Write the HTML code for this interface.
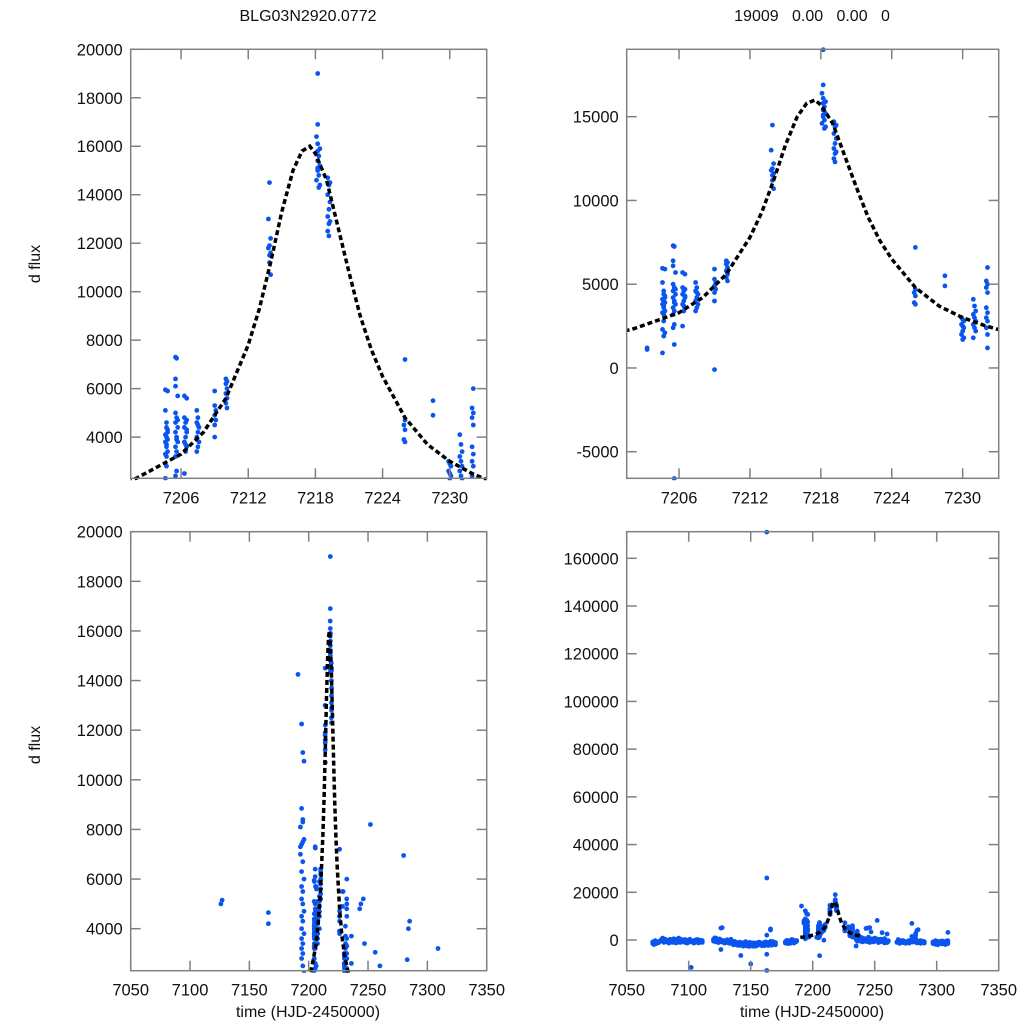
<!DOCTYPE html>
<html><head><meta charset="utf-8"><style>
html,body{margin:0;padding:0;background:#fff;overflow:hidden;width:1024px;height:1024px}
svg{display:block;font-family:"Liberation Sans",sans-serif}
</style></head><body>
<svg id="chart" width="1024" height="1024" viewBox="0 0 1024 1024"></svg>
<script>
// ---- data ----
const modelT=[7190,7195,7199,7201,7202,7204,7206,7208,7210,7212,7213,7214,7215,7216,7216.8,7217.5,7218,7219,7220,7221,7222,7223,7224,7226,7228,7230,7232,7233,7236,7240];
const modelF=[1100,1400,1900,2150,2300,2800,3300,4200,5600,7800,9300,11200,13300,15000,15800,16000,15700,14600,12700,10800,9000,7600,6500,4800,3700,3000,2500,2300,1900,1500];
const seasonObs=[
[7203.3,1200],[7203.3,1100],
[7204.6,5950],[7204.8,5900],[7204.6,5100],[7204.7,4600],[7204.7,4400],[7204.8,4200],[7204.6,4100],[7204.7,4000],[7204.8,3900],[7204.6,3800],[7204.7,3600],[7204.8,3400],[7204.6,3300],[7204.7,3200],[7204.7,2800],[7204.6,2300],[7204.8,2100],[7204.7,1900],[7204.6,900],[7204.8,4300],[7204.7,3700],
[7205.5,7300],[7205.6,7250],[7205.5,6400],[7205.5,6100],[7205.7,5700],[7205.5,5000],[7205.6,4800],[7205.5,4600],[7205.7,4400],[7205.5,4200],[7205.6,4000],[7205.7,3800],[7205.5,3600],[7205.6,3400],[7205.5,3200],[7205.6,2600],[7205.5,2400],[7205.6,1400],[7205.6,-6600],[7205.7,4700],[7205.6,3900],
[7206.3,5700],[7206.5,5600],[7206.3,4800],[7206.5,4700],[7206.4,4600],[7206.3,4400],[7206.5,4200],[7206.4,4000],[7206.3,3800],[7206.5,3600],[7206.4,3400],[7206.3,2500],[7206.5,4300],[7206.4,3700],
[7207.4,5100],[7207.5,4800],[7207.4,4600],[7207.6,4400],[7207.5,4200],[7207.4,4000],[7207.6,3800],[7207.5,3600],[7207.4,3400],[7207.5,4500],
[7209.0,5900],[7209.0,5300],[7209.1,5100],[7209.0,4900],[7209.1,4700],[7209.0,4500],[7209.0,4000],[7209.0,-100],
[7210.0,6400],[7210.1,6300],[7210.0,6200],[7210.1,6000],[7210.0,5800],[7210.1,5600],[7210.0,5400],[7210.1,5200],
[7213.9,14500],[7213.8,13000],[7214.0,12200],[7213.9,11900],[7213.8,11800],[7214.0,11600],[7213.9,11500],[7213.9,11200],[7214.0,10700],
[7218.2,19000],[7218.2,16900],[7218.1,16400],[7218.2,16100],[7218.4,15900],[7218.2,15800],[7218.3,15600],[7218.2,15400],[7218.4,15200],[7218.2,15000],[7218.3,14800],[7218.1,14600],[7218.4,14400],[7218.3,14300],[7218.2,15100],
[7219.1,14700],[7219.3,14500],[7219.2,14400],[7219.1,14000],[7219.3,13700],[7219.2,13400],[7219.1,13100],[7219.3,12900],[7219.2,12800],[7219.1,12500],[7219.2,12300],
[7226.0,7200],[7226.0,4700],[7225.9,4500],[7226.0,4300],[7225.9,3900],[7226.0,3800],
[7228.5,5500],[7228.5,4900],
[7229.9,3000],[7230.0,2900],[7230.1,2800],[7229.9,2600],[7230.0,2500],[7230.1,2400],[7230.0,2200],[7229.9,2000],[7230.1,1800],[7230.0,1700],
[7230.9,4100],[7231.0,3700],[7231.1,3400],[7230.9,3200],[7231.0,3000],[7231.1,2800],[7230.9,2600],[7231.0,2400],[7231.1,2200],[7230.9,1800],
[7232.1,6000],[7232.0,5200],[7232.1,5000],[7232.0,4800],[7232.1,4500],[7232.0,3600],[7232.1,3300],[7232.0,3000],[7232.1,2800],[7232.0,2400],[7232.1,2000],[7232.1,1200]
];
const wideObs=[
[7127,5150],[7166,4650],[7191,14250],[7194,12250],[7195,11100],[7196,10750],[7194,8850],[7193,8100],[7195,8300],[7195,8400],[7196,7600],[7195,7500],[7194,7400],[7193,7300],[7193,7000],[7195,6700],[7194,6300],[7196,6000],[7194,5700],[7195,5500],[7194,5200],[7195,5000],[7196,4700],[7194,4500],[7195,4300],[7194,4000],[7196,3800],[7194,3600],[7195,3400],[7194,3200],[7195,3000],[7194,2800],[7195,2500],[7194,2000],[7196,1500],[7195,1000],[7194,500],[7196,2200],[7197,1200],
[7229,5500],[7236,3700],[7243,4800],[7246,5200],[7247,3400],[7252,8200],[7256,3050],[7280,6950],[7283,2750],[7285,4300],[7309,3200],[7236,2600],
[7163,171000],[7163,26000],[7163,-12800],[7102,-11500],[7150,-10000],[7142,-6500],[7163,-6000],[7126,5000],[7126,-4000],[7235,-2500],[7166,4200],[7284,4000],[7244,5000]
];
const baseT=[7071,7072,7073,7074,7076,7078,7079,7080,7081,7082,7083,7084,7085,7086,7087,7088,7089,7090,7091,7092,7093,7094,7095,7096,7097,7098,7099,7100,7101,7104,7105,7106,7107,7108,7109,7110,7111,7120,7121,7122,7123,7124,7125,7127,7128,7129,7131,7132,7133,7134,7135,7136,7137,7138,7139,7140,7141,7142,7143,7144,7145,7146,7147,7148,7149,7150,7151,7152,7153,7154,7155,7156,7157,7158,7159,7160,7161,7162,7163,7164,7165,7166,7167,7168,7169,7170,7178,7179,7180,7181,7182,7183,7184,7185,7186,7187,7235,7236,7237,7238,7239,7240,7241,7242,7244,7245,7246,7247,7248,7249,7250,7251,7253,7254,7255,7257,7258,7259,7260,7261,7268,7269,7270,7271,7272,7273,7274,7275,7276,7277,7278,7279,7280,7281,7282,7283,7284,7285,7286,7287,7288,7289,7290,7297,7298,7299,7300,7301,7302,7303,7304,7305,7306,7307,7308,7309];
const baseF1=[-1500,-1200,-800,-1000,-600,200,800,-300,-500,0,-900,-400,300,-700,-200,500,-1100,-600,-100,800,-400,-900,-300,-700,200,-1200,-500,0,-800,-1300,-400,-800,200,-600,-100,-900,-300,300,-200,800,-500,100,-700,-300,-1000,-400,-700,-1200,-800,300,-1500,-1000,-600,-1800,-1300,-2000,-900,-1600,-2200,-1200,-1900,-700,-2500,-1500,-1000,-2300,-1700,-2000,-1200,-2600,-1400,-1800,-900,-2100,-1500,-1200,-2400,-800,2000,-1600,-1000,-2000,-1400,-700,-1800,-1100,-700,-1200,-300,-900,-600,-1100,100,-500,-800,-200,1500,800,2000,400,-300,900,200,-500,300,1200,-200,400,-600,100,800,-400,300,-900,200,-700,-1200,-300,2500,-600,-1000,-500,-1400,-800,-300,-1100,-600,-1300,-900,-400,-200,-800,1500,500,-600,2000,-300,-1000,-700,-1400,-500,-1200,-700,-1500,-900,-1800,-1100,-600,-1300,-900,-400,-1600,-1000,-700,-1200,-300,800];
const baseF2=[-800,-1900,-300,-1500,-1100,-400,-200,-1000,300,-700,-200,-1300,-600,0,-1000,-500,-300,-1200,400,-500,-1000,200,-800,-100,-900,-400,-1300,-600,300,-300,-1100,100,-700,-1200,-600,-200,-1000,-500,900,-800,-300,-1100,400,-900,-200,-1300,100,-400,-1400,-900,-600,-2000,-1300,-900,-2200,-1400,-2300,-1100,-1500,-2600,-1000,-1800,-1400,-2200,-2700,-1500,-1200,-2600,-2000,-1500,-2300,-1000,-1700,-1300,-2400,-1900,-1100,-1700,-1000,-2300,-1800,-600,-2200,-1500,-1000,-2000,-1300,-200,-1500,-700,-1400,200,-900,-1300,-400,-600,200,-500,1000,-400,1100,-800,-200,600,-700,100,-1000,-300,400,-800,-200,600,-1100,-400,300,-900,600,-500,-1100,-300,-800,200,-1400,-600,-1000,-300,-800,-1400,-1100,-600,-1300,-300,200,-900,-400,700,-1200,-500,-1100,-300,-900,-600,-1300,-800,-1000,-300,-1400,-2000,-700,-1200,-1600,-500,-1000,-1900,-400,-1500,-600,1500];

const xTicksTop=[7206,7212,7218,7224,7230];
const xTicksBot=[7050,7100,7150,7200,7250,7300,7350];
const yTicksTL=[4000,6000,8000,10000,12000,14000,16000,18000,20000];
const yTicksTR=[-5000,0,5000,10000,15000];
const yTicksBL=[4000,6000,8000,10000,12000,14000,16000,18000,20000];
const yTicksBR=[0,20000,40000,60000,80000,100000,120000,140000,160000];

// ---- drawing ----
const NS="http://www.w3.org/2000/svg";
const svg=document.getElementById('chart');
function mk(tag,attrs,parent){const e=document.createElementNS(NS,tag);for(const k in attrs)e.setAttribute(k,attrs[k]);(parent||svg).appendChild(e);return e;}
const seasonOnly=seasonObs.slice();
const allObs=seasonObs.slice();
wideObs.forEach(p=>allObs.push(p));
baseT.forEach((t,i)=>{allObs.push([t,baseF1[i]]);allObs.push([t,baseF2[i]]);});

const panels=[
 {id:'top-left',x0:130.7,x1:486.7,y0:49.3,y1:478.3,xmin:7201.5,xmax:7233.3,ymin:2300,ymax:20000,xt:xTicksTop,yt:yTicksTL,obs:seasonOnly},
 {id:'top-right',x0:626.7,x1:998.7,y0:49.3,y1:478.3,xmin:7201.57,xmax:7233.05,ymin:-6588,ymax:19024,xt:xTicksTop,yt:yTicksTR,obs:seasonOnly},
 {id:'bottom-left',x0:130.7,x1:486.7,y0:531.7,y1:970.7,xmin:7050,xmax:7350,ymin:2307,ymax:20000,xt:xTicksBot,yt:yTicksBL,obs:allObs},
 {id:'bottom-right',x0:626.7,x1:998.7,y0:531.7,y1:970.7,xmin:7050,xmax:7350,ymin:-12870,ymax:171150,xt:xTicksBot,yt:yTicksBR,obs:allObs}
];
panels.forEach((p,pi)=>{
  const g=mk('g',{});
  
  
  const sx=v=>p.x0+(v-p.xmin)/(p.xmax-p.xmin)*(p.x1-p.x0);
  const sy=v=>p.y1-(v-p.ymin)/(p.ymax-p.ymin)*(p.y1-p.y0);
  const cp=mk('clipPath',{id:'clip'+pi},g);
  mk('rect',{x:p.x0,y:p.y0-2,width:p.x1-p.x0,height:p.y1-p.y0+4},cp);
  const dots=mk('g',{'clip-path':'url(#clip'+pi+')',fill:'#0a55ee'},g);
  
  
  p.obs.forEach(o=>{
    if(o[0]<p.xmin-1||o[0]>p.xmax+1)return;
    const c=mk('circle',{cx:sx(o[0]).toFixed(1),cy:sy(o[1]).toFixed(1),r:2.4},dots);
    
    
  });
  const d=modelT.map((t,i)=>(i?'L':'M')+sx(t).toFixed(1)+','+sy(modelF[i]).toFixed(1)).join('');
  const line=mk('path',{d:d,fill:'none',stroke:'#000','stroke-width':3.5,'stroke-dasharray':'5,3','clip-path':'url(#clip'+pi+')'},g);
  
  
  const fr=mk('rect',{x:p.x0,y:p.y0,width:p.x1-p.x0,height:p.y1-p.y0,fill:'none',stroke:'#808080','stroke-width':1.5},g);
  
  
  p.xt.forEach(t=>{
    const x=sx(t);
    mk('line',{x1:x,x2:x,y1:p.y1,y2:p.y1-10,stroke:'#808080','stroke-width':1.5},g);
    mk('line',{x1:x,x2:x,y1:p.y0,y2:p.y0+10,stroke:'#808080','stroke-width':1.5},g);
    const tx=mk('text',{x:x,y:p.y1+25,'text-anchor':'middle','font-size':16.5,fill:'#111'},g);
    tx.textContent=t;
    
    
  });
  p.yt.forEach(t=>{
    const y=sy(t);
    mk('line',{x1:p.x0,x2:p.x0+10,y1:y,y2:y,stroke:'#808080','stroke-width':1.5},g);
    mk('line',{x1:p.x1,x2:p.x1-10,y1:y,y2:y,stroke:'#808080','stroke-width':1.5},g);
    const tx=mk('text',{x:p.x0-8,y:y+6,'text-anchor':'end','font-size':16.5,fill:'#111'},g);
    tx.textContent=t;
    
    
  });
});
function label(txt,x,y,name,rot){
  const t=mk('text',{x:x,y:y,'text-anchor':'middle','font-size':16,fill:'#111'});
  if(rot)t.setAttribute('transform','rotate(-90 '+x+' '+y+')');
  t.textContent=txt;
  
  
}
label('BLG03N2920.0772',308,21,'left-title');
label('19009\u00a0\u00a0\u00a00.00\u00a0\u00a0\u00a00.00\u00a0\u00a0\u00a00',812,21,'right-title');
label('d flux',40,264,'y-axis-title-top',true);
label('d flux',40,745,'y-axis-title-bottom',true);
label('time (HJD-2450000)',308,1017,'x-axis-title-left');
label('time (HJD-2450000)',812,1017,'x-axis-title-right');
</script>
</body></html>
